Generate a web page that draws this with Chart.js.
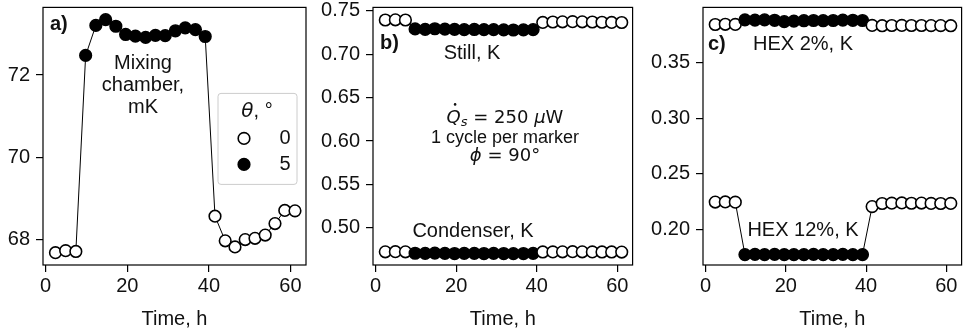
<!DOCTYPE html>
<html lang="en">
<head>
<meta charset="UTF-8">
<title>Temperatures vs time</title>
<script src="https://cdn.jsdelivr.net/npm/chart.js"></script>
<style>
  body { margin: 0; background: #fff; }
  #wrap { position: relative; width: 969px; height: 332px; overflow: hidden; }
  canvas { position: absolute; top: 0; }
</style>
</head>
<body>
<div id="wrap">
  <canvas id="chartA" width="320" height="332" style="left:0px"></canvas>
  <canvas id="chartB" width="320" height="332" style="left:320px"></canvas>
  <canvas id="chartC" width="329" height="332" style="left:640px"></canvas>
</div>
<script>
// time of each marker (one cycle per marker), hours
const timeH = [2.4, 4.9, 7.4, 9.8, 12.3, 14.7, 17.2, 19.6, 22.0, 24.5, 26.9, 29.3, 31.8,
               34.2, 36.7, 39.1, 41.5, 44.0, 46.4, 48.9, 51.3, 53.8, 56.2, 58.6, 61.1];
// tilt angle theta (deg) for each marker
const theta = [0, 0, 0, 5, 5, 5, 5, 5, 5, 5, 5, 5, 5, 5, 5, 5, 0, 0, 0, 0, 0, 0, 0, 0, 0];

// a) mixing chamber, mK
const mixingChamber = [67.67, 67.72, 67.70, 72.48, 73.21, 73.35, 73.19, 72.99, 72.95, 72.92, 72.97, 72.96, 73.08,
                       73.15, 73.11, 72.94, 68.56, 67.96, 67.81, 67.99, 68.02, 68.10, 68.38, 68.70, 68.69];
// b) still and condenser, K
const still = [0.7393, 0.7395, 0.7393, 0.7290, 0.7285, 0.7292, 0.7288, 0.7285, 0.7283, 0.7284, 0.7282, 0.7283, 0.7280,
               0.7278, 0.7280, 0.7283, 0.7365, 0.7370, 0.7372, 0.7374, 0.7372, 0.7370, 0.7367, 0.7365, 0.7364];
const condenser = [0.4725, 0.4726, 0.4725, 0.4708, 0.4706, 0.4710, 0.4707, 0.4705, 0.4706, 0.4707, 0.4705, 0.4706, 0.4705,
                   0.4704, 0.4705, 0.4706, 0.4723, 0.4724, 0.4725, 0.4726, 0.4725, 0.4724, 0.4723, 0.4723, 0.4722];
// c) heat exchangers, K
const hex2 = [0.3846, 0.3848, 0.3847, 0.3887, 0.3886, 0.3888, 0.3884, 0.3872, 0.3876, 0.3880, 0.3882, 0.3880, 0.3882,
              0.3886, 0.3884, 0.3882, 0.3838, 0.3835, 0.3837, 0.3838, 0.3837, 0.3837, 0.3836, 0.3836, 0.3835];
const hex12 = [0.2247, 0.2248, 0.2246, 0.1774, 0.1775, 0.1774, 0.1775, 0.1773, 0.1774, 0.1774, 0.1775, 0.1774, 0.1774,
               0.1775, 0.1774, 0.1774, 0.2206, 0.2234, 0.2237, 0.2239, 0.2236, 0.2238, 0.2235, 0.2234, 0.2235];

const xTicks = [0, 20, 40, 60];
const yTicksA = [68, 70, 72];
const yTicksB = [0.50, 0.55, 0.60, 0.65, 0.70, 0.75];
const yTicksC = [0.20, 0.25, 0.30, 0.35];

const SANS = '"Liberation Sans", Arial, sans-serif';
const MATH = '"DejaVu Sans", sans-serif';
const MARKER_R = 5.8;
Chart.defaults.font.family = SANS;
Chart.defaults.font.size = 20;
Chart.defaults.color = '#111';

function series(values) {
    return {
        data: timeH.map((t, i) => ({ x: t, y: values[i] })),
        borderColor: '#000',
        borderWidth: 1,
        pointRadius: MARKER_R,
        pointHoverRadius: MARKER_R,
        pointBorderWidth: 1.6,
        pointBorderColor: '#000',
        pointBackgroundColor: ctx => theta[ctx.dataIndex] === 5 ? '#000' : '#fff',
        tension: 0
    };
}

// draw a row of text pieces (for the math-like labels), centred on cx
function drawRuns(ctx, runs, cx, cy) {
    let total = 0;
    runs.forEach(r => { ctx.font = r.f; r.w = ctx.measureText(r.t).width; total += r.w; });
    let x = cx - total / 2;
    ctx.textAlign = 'left';
    ctx.textBaseline = 'middle';
    runs.forEach(r => {
        ctx.font = r.f;
        ctx.fillText(r.t, x, cy + (r.dy || 0));
        if (r.dot) {
            ctx.beginPath();
            ctx.arc(x + r.w * 0.6, cy - 14, 1.3, 0, Math.PI * 2);
            ctx.fill();
        }
        x += r.w;
    });
}

const notesPlugin = {
    id: 'notes',
    afterDraw(chart, args, opts) {
        const ctx = chart.ctx;
        const a = chart.chartArea;
        ctx.save();
        // frame round the axes
        ctx.strokeStyle = '#000';
        ctx.lineWidth = 1.2;
        ctx.strokeRect(a.left, a.top, a.right - a.left, a.bottom - a.top);
        ctx.fillStyle = '#111';
        (opts.items || []).forEach(n => {
            if (n.runs) {
                drawRuns(ctx, n.runs, a.left + n.dx, a.top + n.dy);
                return;
            }
            ctx.font = (n.bold ? 'bold ' : '') + (n.size || 20) + 'px ' + SANS;
            ctx.textAlign = n.align || 'center';
            ctx.textBaseline = 'middle';
            ctx.fillText(n.text, a.left + n.dx, a.top + n.dy);
        });
        if (opts.legend) {
            const L = opts.legend;
            const x0 = a.left + L.dx, y0 = a.top + L.dy;
            ctx.beginPath();
            ctx.roundRect(x0, y0, L.w, L.h, 3);
            ctx.fillStyle = 'rgba(255,255,255,0.85)';
            ctx.fill();
            ctx.strokeStyle = '#cccccc';
            ctx.lineWidth = 1;
            ctx.stroke();
            ctx.fillStyle = '#111';
            drawRuns(ctx, [
                { t: 'θ', f: 'italic 20px ' + MATH },
                { t: ', °', f: '20px ' + SANS }
            ], x0 + 39, y0 + 18);
            L.entries.forEach((e, i) => {
                const cy = y0 + 45 + i * 26;
                ctx.beginPath();
                ctx.arc(x0 + 26, cy, MARKER_R, 0, Math.PI * 2);
                ctx.fillStyle = e.fill;
                ctx.fill();
                ctx.strokeStyle = '#000';
                ctx.lineWidth = 1.6;
                ctx.stroke();
                ctx.fillStyle = '#111';
                ctx.font = '20px ' + SANS;
                ctx.textAlign = 'center';
                ctx.textBaseline = 'middle';
                ctx.fillText(e.label, x0 + 67, cy);
            });
        }
        ctx.restore();
    }
};

function makePanel(id, datasets, yMin, yMax, yTicks, decimals, yWidth, padRight, notes) {
    return new Chart(document.getElementById(id), {
        type: 'line',
        data: { datasets: datasets },
        plugins: [notesPlugin],
        options: {
            responsive: false,
            animation: false,
            events: [],
            layout: { padding: { top: 6, right: padRight, left: 0, bottom: 0 } },
            plugins: { legend: { display: false }, tooltip: { enabled: false }, notes: notes },
            scales: {
                x: {
                    type: 'linear',
                    min: -0.65,
                    max: 63.8,
                    afterBuildTicks: s => { s.ticks = xTicks.map(v => ({ value: v })); },
                    afterFit: s => { s.height = 67; s.paddingLeft = 0; s.paddingRight = 0; },
                    ticks: { padding: 2, color: '#111', maxRotation: 0 },
                    grid: { drawOnChartArea: false, drawTicks: true, tickLength: 7, color: '#000', lineWidth: 1.2 },
                    border: { display: false },
                    title: { display: true, text: 'Time, h', color: '#111', font: { size: 20 }, padding: { top: 0, bottom: 1 } }
                },
                y: {
                    min: yMin,
                    max: yMax,
                    afterBuildTicks: s => { s.ticks = yTicks.map(v => ({ value: v })); },
                    afterFit: s => { s.width = yWidth; s.paddingTop = 0; s.paddingBottom = 0; },
                    ticks: { padding: 6, color: '#111', callback: v => v.toFixed(decimals) },
                    grid: { drawOnChartArea: false, drawTicks: true, tickLength: 7, color: '#000', lineWidth: 1.2 },
                    border: { display: false }
                }
            }
        }
    });
}

makePanel('chartA', [series(mixingChamber)], 67.37, 73.65, yTicksA, 0, 43, 14, {
    items: [
        { text: 'a)', dx: 7, dy: 17, align: 'left', bold: true },
        { text: 'Mixing', dx: 100, dy: 56 },
        { text: 'chamber,', dx: 100, dy: 78 },
        { text: 'mK', dx: 100, dy: 100 }
    ],
    legend: { dx: 175, dy: 86, w: 79, h: 91, entries: [{ label: '0', fill: '#fff' }, { label: '5', fill: '#000' }] }
});

makePanel('chartB', [series(still), series(condenser)], 0.4573, 0.7538, yTicksB, 2, 53, 5, {
    items: [
        { text: 'b)', dx: 7, dy: 36, align: 'left', bold: true },
        { text: 'Still, K', dx: 99, dy: 46 },
        { runs: [
            { t: 'Q', f: 'italic 18px ' + MATH, dot: true },
            { t: 's', f: 'italic 13px ' + MATH, dy: 4 },
            { t: ' = 250 ', f: '18px ' + MATH },
            { t: 'μ', f: 'italic 18px ' + MATH },
            { t: 'W', f: '18px ' + MATH }
          ], dx: 132, dy: 111 },
        { text: '1 cycle per marker', dx: 132, dy: 131, size: 18 },
        { runs: [
            { t: 'ϕ', f: 'italic 18px ' + MATH },
            { t: ' = 90°', f: '18px ' + MATH }
          ], dx: 132, dy: 149 },
        { text: 'Condenser, K', dx: 100, dy: 224 }
    ]
});

makePanel('chartC', [series(hex2), series(hex12)], 0.168, 0.400, yTicksC, 2, 63, 6, {
    items: [
        { text: 'c)', dx: 5, dy: 37, align: 'left', bold: true },
        { text: 'HEX 2%, K', dx: 100, dy: 37 },
        { text: 'HEX 12%, K', dx: 100, dy: 223 }
    ]
});
</script>
</body>
</html>
